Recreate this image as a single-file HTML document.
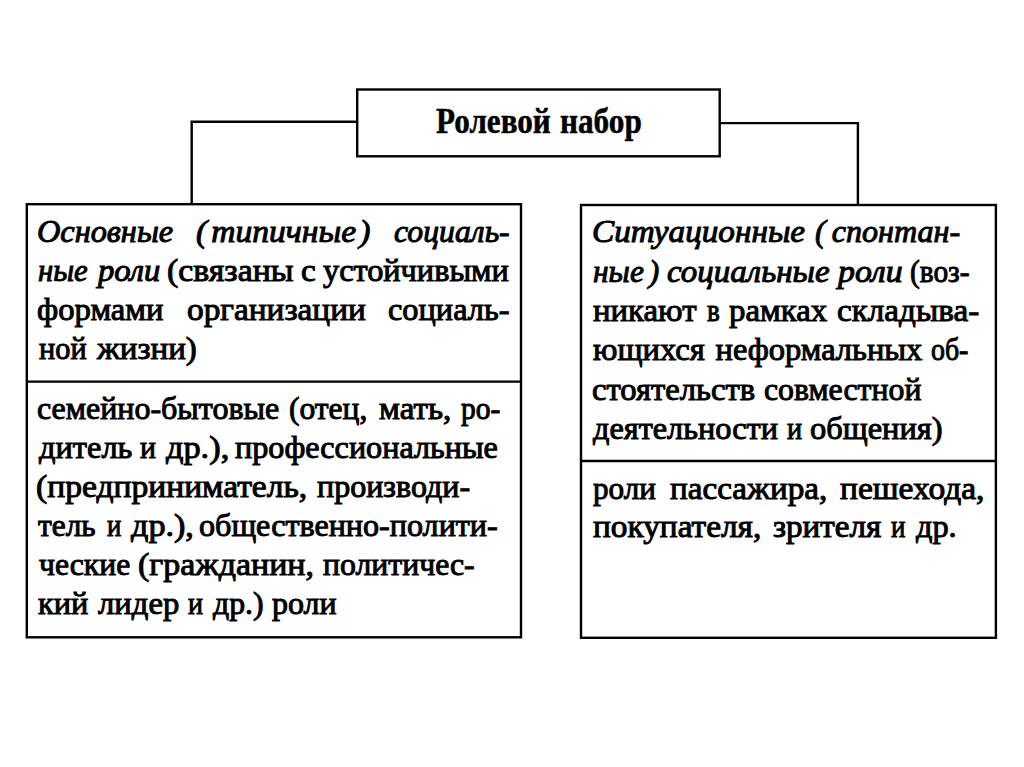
<!DOCTYPE html>
<html><head><meta charset="utf-8"><style>
html,body{margin:0;padding:0;background:#fff;width:1024px;height:767px;overflow:hidden;position:relative}
.t{position:absolute;white-space:nowrap;line-height:1;font-size:32.5px;font-family:"Liberation Serif",serif;color:#000;transform-origin:0 0;-webkit-text-stroke:1.0px #000;font-weight:normal}
.g{display:inline-block}
.b{font-weight:bold;-webkit-text-stroke:0.5px #000}
</style></head><body>
<svg width="1024" height="767" style="position:absolute;left:0;top:0">
<g fill="none" stroke="#000" stroke-width="2.4">
<rect x="357.2" y="89.5" width="362.5" height="66.8"/>
<polyline points="357.2,121.8 191.7,121.8 191.7,204.2"/>
<polyline points="719.7,123.1 857.9,123.1 857.9,205"/>
<rect x="26.8" y="204.2" width="494.2" height="433.1"/>
<line x1="26.8" y1="381.6" x2="521" y2="381.6"/>
<rect x="581" y="205" width="414.9" height="432.8"/>
<line x1="581" y1="461" x2="995.9" y2="461"/>
</g></svg>
<div class="t b" style="left:436.4px;top:104.3px;font-size:35.0px;transform:scaleX(0.889)">Ролевой</div>
<div class="t b" style="left:559.6px;top:104.3px;font-size:35.0px;transform:scaleX(0.892)">набор</div>
<div class="t" style="left:36.8px;top:214.6px;transform:scaleX(0.994)"><i>Основные</i></div>
<div class="t" style="left:196.0px;top:214.6px;transform:scaleX(1.032)"><i>(<span class=g style=width:4px></span>типичные<span class=g style=width:3px></span>)</i></div>
<div class="t" style="left:393.8px;top:214.6px;transform:scaleX(0.977)"><i>социаль-</i></div>
<div class="t" style="left:37.7px;top:254.3px;transform:scaleX(0.946)"><i>ные</i></div>
<div class="t" style="left:98.4px;top:254.3px;transform:scaleX(1.005)"><i>роли</i></div>
<div class="t" style="left:166.5px;top:254.3px;transform:scaleX(1.040)">(связаны</div>
<div class="t" style="left:300.7px;top:254.3px;transform:scaleX(1.023)">с</div>
<div class="t" style="left:322.8px;top:254.3px;transform:scaleX(0.994)">устойчивыми</div>
<div class="t" style="left:36.8px;top:293.3px;transform:scaleX(1.006)">формами</div>
<div class="t" style="left:186.5px;top:293.3px;transform:scaleX(1.025)">организации</div>
<div class="t" style="left:388.0px;top:293.3px;transform:scaleX(0.995)">социаль-</div>
<div class="t" style="left:38.6px;top:332.3px;transform:scaleX(0.934)">ной</div>
<div class="t" style="left:97.4px;top:332.3px;transform:scaleX(1.016)">жизни)</div>
<div class="t" style="left:36.8px;top:392.3px;transform:scaleX(0.984)">семейно-бытовые</div>
<div class="t" style="left:289.0px;top:392.3px;transform:scaleX(0.969)">(отец,</div>
<div class="t" style="left:378.9px;top:392.3px;transform:scaleX(1.016)">мать,</div>
<div class="t" style="left:461.0px;top:392.3px;transform:scaleX(0.907)">ро-</div>
<div class="t" style="left:38.8px;top:430.8px;transform:scaleX(0.998)">дитель</div>
<div class="t" style="left:140.2px;top:430.8px;transform:scaleX(0.918)">и</div>
<div class="t" style="left:165.5px;top:430.8px;transform:scaleX(1.056)">др.),</div>
<div class="t" style="left:235.3px;top:430.8px;transform:scaleX(0.990)">профессиональные</div>
<div class="t" style="left:36.0px;top:470.3px;transform:scaleX(1.033)">(предприниматель,</div>
<div class="t" style="left:316.6px;top:470.3px;transform:scaleX(0.986)">производи-</div>
<div class="t" style="left:37.8px;top:509.3px;transform:scaleX(0.966)">тель</div>
<div class="t" style="left:106.6px;top:509.3px;transform:scaleX(0.824)">и</div>
<div class="t" style="left:131.1px;top:509.3px;transform:scaleX(1.051)">др.),</div>
<div class="t" style="left:199.2px;top:509.3px;transform:scaleX(0.988)">общественно-полити-</div>
<div class="t" style="left:39.4px;top:548.3px;transform:scaleX(0.974)">ческие</div>
<div class="t" style="left:137.6px;top:548.3px;transform:scaleX(1.044)">(гражданин,</div>
<div class="t" style="left:322.8px;top:548.3px;transform:scaleX(0.977)">политичес-</div>
<div class="t" style="left:37.8px;top:587.3px;transform:scaleX(0.996)">кий</div>
<div class="t" style="left:98.0px;top:587.3px;transform:scaleX(1.005)">лидер</div>
<div class="t" style="left:187.8px;top:587.3px;transform:scaleX(0.865)">и</div>
<div class="t" style="left:212.9px;top:587.3px;transform:scaleX(0.977)">др.)</div>
<div class="t" style="left:272.0px;top:587.3px;transform:scaleX(0.983)">роли</div>
<div class="t" style="left:591.8px;top:214.6px;transform:scaleX(1.021)"><i>Ситуационные</i></div>
<div class="t" style="left:815.1px;top:214.6px;transform:scaleX(0.988)"><i>(<span class=g style=width:6px></span>спонтан-</i></div>
<div class="t" style="left:592.6px;top:254.8px;transform:scaleX(0.967)"><i>ные<span class=g style=width:5px></span>)</i></div>
<div class="t" style="left:667.0px;top:254.8px;transform:scaleX(1.015)"><i>социальные</i></div>
<div class="t" style="left:837.7px;top:254.8px;transform:scaleX(1.042)"><i>роли</i></div>
<div class="t" style="left:910.0px;top:254.8px;transform:scaleX(0.903)">(воз-</div>
<div class="t" style="left:592.8px;top:293.8px;transform:scaleX(1.009)">никают</div>
<div class="t" style="left:706.9px;top:293.8px;transform:scaleX(0.833)">в</div>
<div class="t" style="left:728.8px;top:293.8px;transform:scaleX(1.011)">рамках</div>
<div class="t" style="left:837.0px;top:293.8px;transform:scaleX(1.020)">складыва-</div>
<div class="t" style="left:592.8px;top:332.9px;transform:scaleX(1.004)">ющихся</div>
<div class="t" style="left:715.5px;top:332.9px;transform:scaleX(1.000)">неформальных</div>
<div class="t" style="left:931.1px;top:332.9px;transform:scaleX(0.857)">об-</div>
<div class="t" style="left:591.8px;top:372.8px;transform:scaleX(1.004)">стоятельств</div>
<div class="t" style="left:763.5px;top:372.8px;transform:scaleX(0.978)">совместной</div>
<div class="t" style="left:593.0px;top:411.9px;transform:scaleX(0.994)">деятельности</div>
<div class="t" style="left:787.2px;top:411.9px;transform:scaleX(0.871)">и</div>
<div class="t" style="left:810.4px;top:411.9px;transform:scaleX(0.998)">общения)</div>
<div class="t" style="left:592.8px;top:471.7px;transform:scaleX(0.959)">роли</div>
<div class="t" style="left:670.2px;top:471.7px;transform:scaleX(1.020)">пассажира,</div>
<div class="t" style="left:840.3px;top:471.7px;transform:scaleX(1.030)">пешехода,</div>
<div class="t" style="left:592.8px;top:510.3px;transform:scaleX(1.025)">покупателя,</div>
<div class="t" style="left:773.1px;top:510.3px;transform:scaleX(1.018)">зрителя</div>
<div class="t" style="left:891.3px;top:510.3px;transform:scaleX(0.829)">и</div>
<div class="t" style="left:915.8px;top:510.3px;transform:scaleX(0.995)">др.</div>
</body></html>
